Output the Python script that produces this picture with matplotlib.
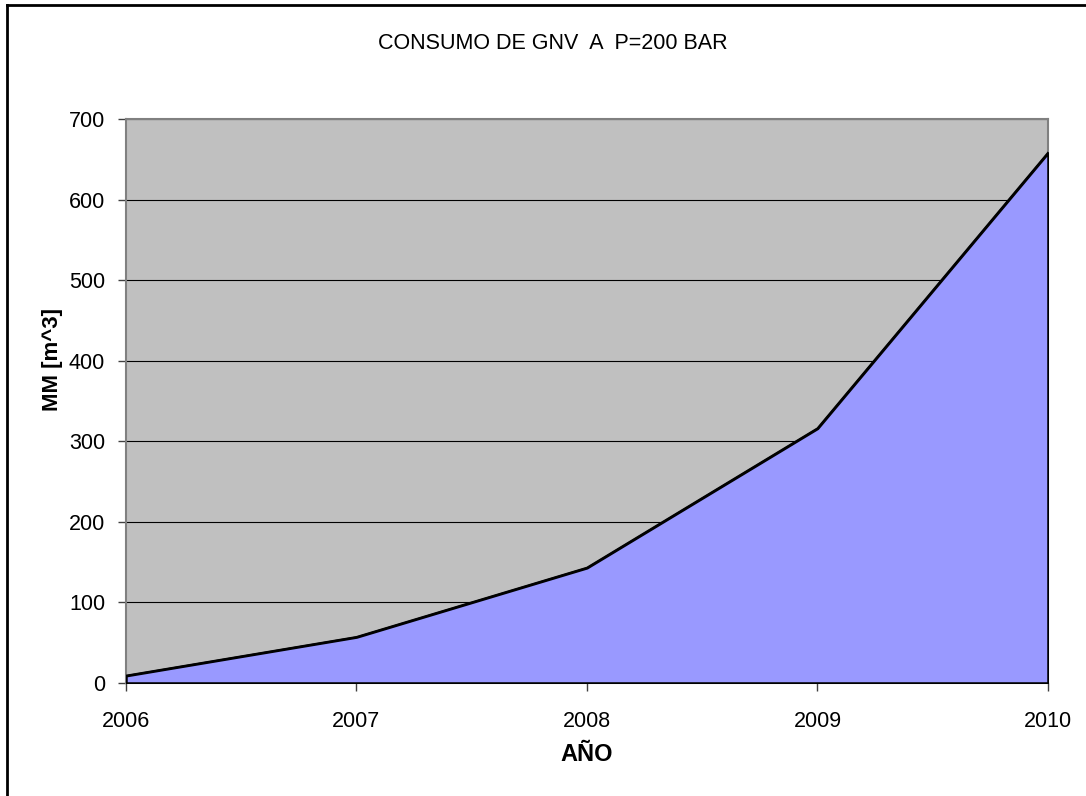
import matplotlib.pyplot as plt
from matplotlib.lines import Line2D

plt.rcParams['font.family'] = ['Liberation Sans', 'DejaVu Sans']

# consumo anual de GNV (millones de m^3)
anios = [2006, 2007, 2008, 2009, 2010]
consumo = [9, 57, 143, 316, 658]
y_ticks = [0, 100, 200, 300, 400, 500, 600, 700]

fig = plt.figure(figsize=(10.86, 7.96), dpi=100)
ax = fig.add_axes([0.116, 0.142, 0.849, 0.7085])
ax.set_facecolor('#c0c0c0')

ax.fill_between(anios, consumo, 0, facecolor='#9999ff', edgecolor='black',
                linewidth=1.8, zorder=3)
ax.plot(anios, consumo, color='black', linewidth=1.5, zorder=4)

ax.set_xlim(anios[0], anios[-1])
ax.set_ylim(0, 700)
ax.set_xticks(anios)
ax.set_yticks(y_ticks)
ax.grid(axis='y', color='black', linewidth=0.8, zorder=1)
ax.set_axisbelow(True)

for side in ['left', 'top', 'right', 'bottom']:
    ax.spines[side].set_color('#808080')
    ax.spines[side].set_linewidth(1.5)

ax.tick_params(axis='both', direction='out', length=6, width=1, color='#404040',
               labelsize=15.5)
ax.tick_params(axis='y', pad=9)
ax.tick_params(axis='x', pad=14)

fig.text(0.509, 0.945, 'CONSUMO DE GNV  A  P=200 BAR', ha='center', va='center',
         fontsize=15.5)
fig.text(0.048, 0.548, 'MM [m^3]', rotation=90, ha='center', va='center',
         fontsize=16, fontweight='bold')
fig.text(0.54, 0.052, 'AÑO', ha='center', va='center', fontsize=17,
         fontweight='bold')

# marco exterior del gráfico
fig.add_artist(Line2D([0.0065, 1.0], [0.9935, 0.9935], transform=fig.transFigure,
                      color='black', linewidth=2))
fig.add_artist(Line2D([0.0065, 0.0065], [0.0, 0.9935], transform=fig.transFigure,
                      color='black', linewidth=2))

fig.savefig('out.png', dpi=100)
